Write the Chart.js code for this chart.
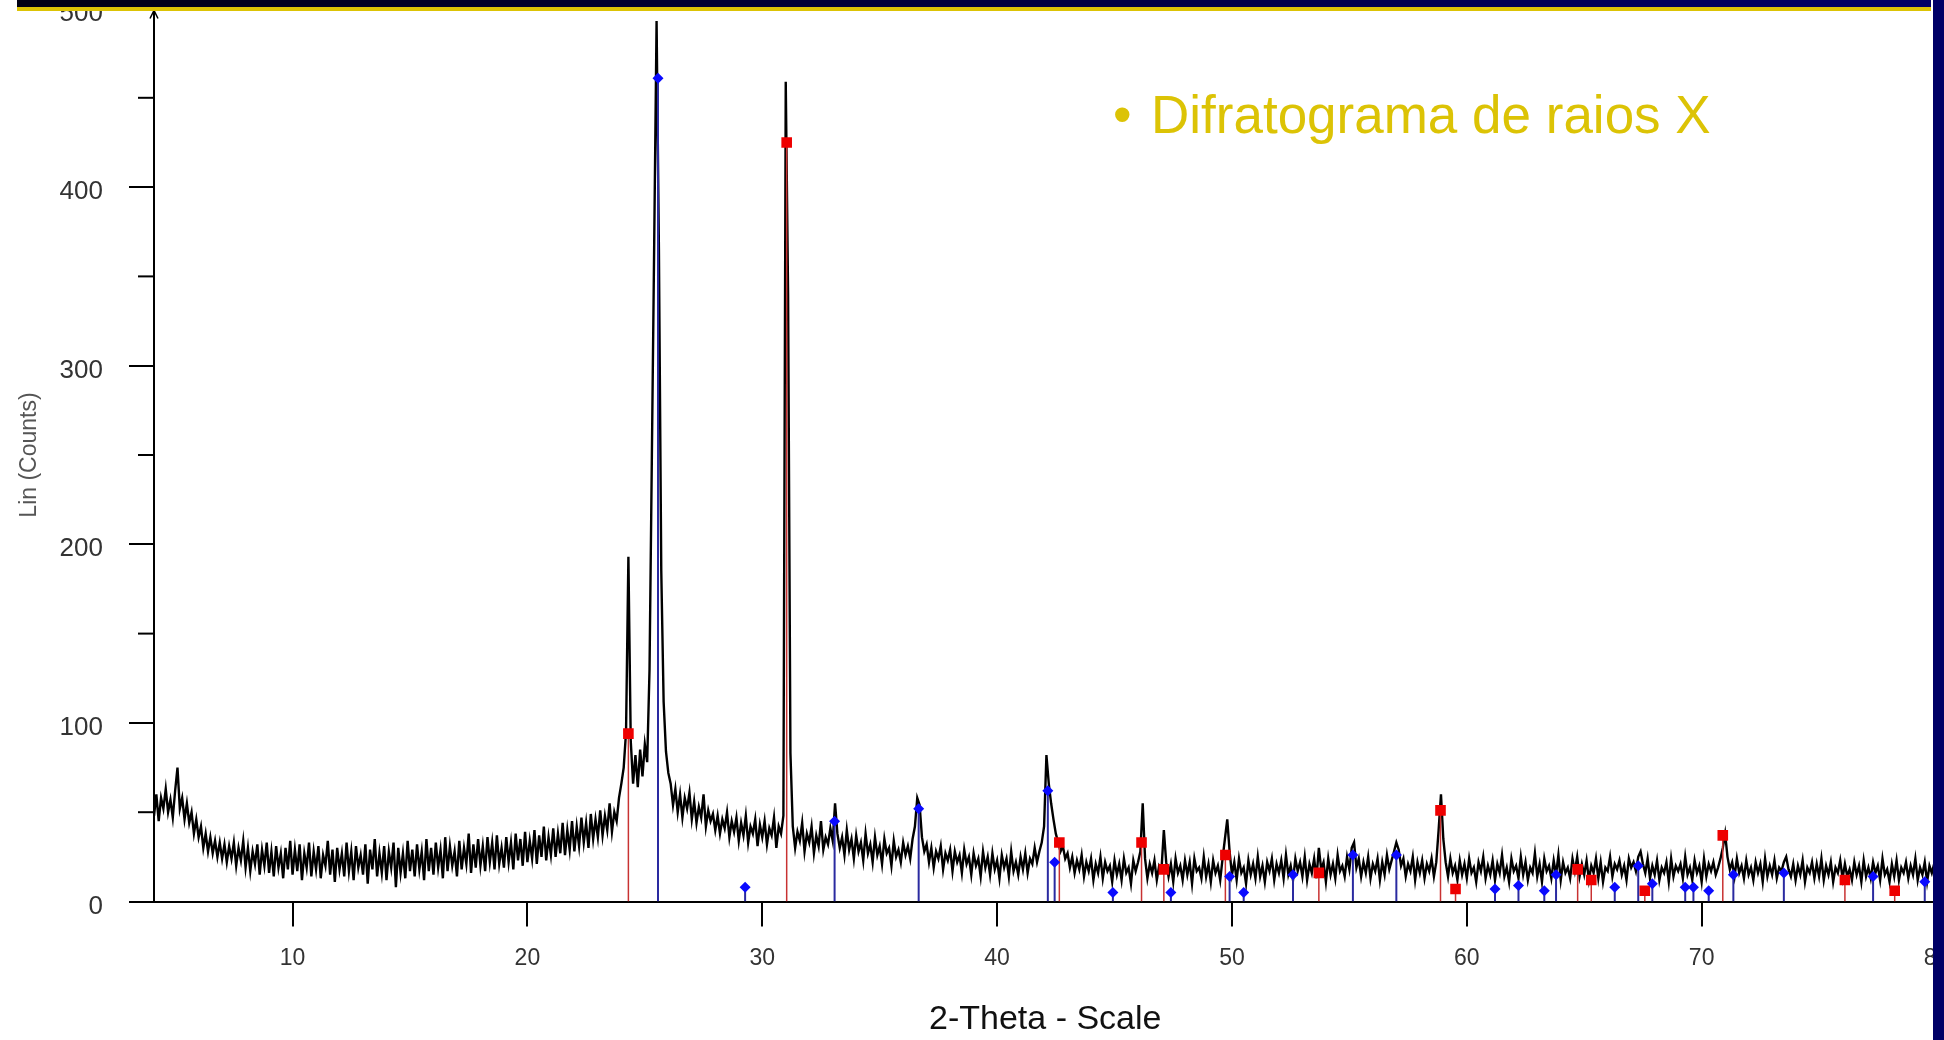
<!DOCTYPE html>
<html>
<head>
<meta charset="utf-8">
<script src="https://cdn.jsdelivr.net/npm/chart.js@4.4.0/dist/chart.umd.min.js"></script>
<style>
  html, body { margin: 0; padding: 0; background: #fff; overflow: hidden; }
  #wrap { position: absolute; left: 0; top: 0; width: 1944px; height: 1040px; }
  #topband { position: absolute; left: 17px; top: 0; width: 1914px; height: 7px; background: linear-gradient(to right, #000014, #000066); }
  #topline { position: absolute; left: 17px; top: 7px; width: 1914px; height: 4px; background: #dcc305; }
  #rightband { position: absolute; left: 1933px; top: 0; width: 11px; height: 1040px; background: #000066; }
  .heading { position: absolute; top: 88px; font-family: "Liberation Sans", Arial, sans-serif; font-size: 53px; line-height: 53px; color: #dcc305; white-space: nowrap; }
</style>
</head>
<body>
<div id="wrap"><canvas id="xrd"></canvas></div>
<div id="topband"></div>
<div id="topline"></div>
<div id="rightband"></div>
<span class="heading" style="left:1113px">•</span>
<span class="heading" style="left:1151px">Difratograma de raios X</span>
<script>
// scan grid (2-theta, degrees)
const startAngle = 4.1;
const stepAngle = 0.1;

// Lin (Counts), one row per degree
const counts = [
  48, 60, 45, 58, 52, 63, 50, 57, 47, 62,
  75, 52, 58, 46, 55, 44, 50, 38, 46, 36,
  42, 30, 38, 28, 36, 27, 34, 25, 33, 24,
  32, 22, 31, 24, 33, 20, 30, 23, 34, 19,
  30, 17, 28, 21, 32, 15, 29, 20, 33, 16,
  28, 14, 31, 19, 27, 13, 30, 18, 34, 15,
  29, 17, 32, 12, 27, 19, 33, 14, 28, 18,
  31, 13, 26, 20, 34, 15, 29, 11, 30, 18,
  27, 14, 33, 17, 28, 12, 31, 19, 26, 15,
  32, 10, 29, 18, 35, 14, 27, 16, 31, 12,
  28, 19, 33, 8, 30, 16, 27, 13, 34, 17,
  29, 14, 32, 18, 28, 12, 35, 17, 30, 15,
  33, 19, 29, 13, 36, 17, 31, 20, 28, 14,
  34, 18, 30, 21, 38, 16, 32, 19, 35, 20,
  31, 17, 36, 22, 33, 18, 37, 21, 30, 19,
  36, 22, 33, 18, 38, 23, 35, 20, 39, 22,
  34, 24, 40, 21, 37, 25, 42, 23, 36, 26,
  41, 25, 38, 27, 44, 26, 40, 29, 45, 28,
  42, 31, 47, 33, 44, 30, 49, 35, 46, 36,
  51, 37, 48, 40, 55, 39, 50, 45, 58, 66,
  75, 95, 193, 90, 66, 82, 64, 85, 70, 88,
  78, 130, 250, 370, 493, 365, 185, 112, 84, 72,
  66, 54, 63, 50, 60, 47, 58, 52, 61, 46,
  56, 44, 53, 47, 60, 42, 51, 45, 49, 40,
  48, 38, 46, 41, 50, 36, 45, 39, 47, 34,
  44, 37, 48, 33, 42, 38, 46, 31, 43, 36,
  45, 32, 41, 37, 47, 30, 42, 38, 48, 459,
  340, 83, 42, 30, 39, 34, 44, 28, 38, 33,
  42, 27, 37, 31, 45, 29, 36, 32, 41, 34,
  55, 38, 30, 36, 26, 40, 29, 35, 24, 37,
  28, 33, 23, 38, 27, 32, 22, 36, 26, 31,
  21, 35, 27, 30, 20, 34, 25, 29, 22, 33,
  26, 31, 24, 35, 42, 58, 54, 36, 28, 32,
  22, 30, 19, 28, 24, 31, 18, 27, 23, 29,
  17, 28, 22, 26, 16, 29, 21, 25, 15, 27,
  20, 24, 14, 28, 19, 25, 15, 27, 18, 23,
  13, 26, 19, 24, 14, 28, 17, 22, 15, 25,
  18, 27, 16, 24, 21, 30, 22, 28, 33, 42,
  82, 66, 55, 46, 38, 33, 28, 31, 24, 27,
  19, 25, 16, 23, 18, 26, 14, 22, 17, 24,
  12, 21, 16, 25, 13, 22, 17, 20, 11, 23,
  15, 21, 12, 24, 16, 19, 10, 23, 17, 22,
  28, 55, 24, 13, 21, 16, 23, 12, 20, 18,
  40, 22, 14, 21, 11, 24, 16, 20, 12, 23,
  15, 22, 10, 24, 17, 19, 13, 25, 14, 21,
  11, 23, 16, 20, 12, 24, 35, 46, 28, 15,
  22, 12, 24, 16, 19, 10, 23, 15, 21, 13,
  25, 14, 20, 11, 22, 17, 24, 12, 21, 16,
  23, 13, 26, 15, 20, 12, 24, 17, 22, 14,
  25, 12, 21, 16, 24, 13, 30, 18, 22, 11,
  24, 15, 21, 13, 26, 17, 20, 14, 25, 18,
  30, 33, 19, 24, 14, 22, 16, 25, 13, 21,
  17, 24, 12, 22, 15, 26, 18, 23, 28, 33,
  29, 20, 24, 14, 21, 17, 25, 12, 22, 16,
  23, 13, 21, 17, 24, 14, 22, 40, 60, 35,
  22, 14, 24, 16, 20, 12, 23, 15, 21, 13,
  24, 16, 19, 11, 22, 17, 25, 13, 20, 15,
  23, 12, 21, 16, 26, 14, 19, 11, 24, 17,
  20, 13, 25, 15, 22, 12, 19, 16, 27, 14,
  21, 11, 24, 17, 20, 13, 23, 15, 26, 12,
  22, 16, 19, 13, 24, 17, 25, 14, 21, 15,
  23, 12, 20, 16, 24, 13, 22, 11, 19, 17,
  25, 14, 21, 18, 23, 15, 20, 12, 24, 19,
  22, 17, 25, 28, 21, 16, 24, 13, 20, 15,
  23, 12, 19, 16, 22, 11, 24, 14, 20, 17,
  21, 13, 25, 15, 19, 12, 23, 16, 20, 11,
  24, 14, 21, 17, 22, 15, 19, 24, 30, 38,
  25, 18, 22, 14, 24, 16, 20, 13, 23, 15,
  19, 12, 22, 16, 21, 11, 24, 14, 20, 15,
  23, 13, 19, 17, 22, 25, 18, 14, 21, 12,
  20, 15, 23, 11, 19, 16, 22, 13, 21, 14,
  24, 12, 20, 15, 22, 11, 19, 16, 23, 13,
  21, 14, 18, 12, 22, 15, 20, 11, 23, 14,
  19, 13, 22, 16, 20, 12, 24, 15, 18, 11,
  21, 14, 23, 12, 19, 16, 22, 13, 20, 15,
  24, 12, 19, 15, 22, 11, 20, 16, 21, 14
];

// reference pattern, phase 1 (red squares)
const redAngles  = [24.30, 31.04, 42.65, 46.15, 47.10, 49.72, 53.70, 58.88, 59.52, 64.72, 65.30, 67.58, 70.90, 76.10, 78.22];
const redHeights = [94, 425, 33, 33, 18, 26, 16, 51, 7, 18, 12, 6, 37, 12, 6];

// reference pattern, phase 2 (blue diamonds)
const blueAngles  = [25.56, 29.27, 33.08, 36.66, 42.16, 42.45, 44.93, 47.40, 49.90, 50.50, 52.60, 55.15, 57.00, 61.20, 62.20, 63.30, 63.80, 66.30, 67.30, 67.90, 69.30, 69.65, 70.30, 71.35, 73.50, 77.30, 79.50];
const blueHeights = [461, 8, 45, 52, 62, 22, 5, 5, 14, 5, 15, 26, 26, 7, 9, 6, 15, 8, 20, 10, 8, 8, 6, 15, 16, 14, 11];

const xTicks = [10, 20, 30, 40, 50, 60, 70, 80];
const yTicks = [0, 100, 200, 300, 400, 500];
const yMinorTicks = [50, 150, 250, 350, 450];

const scan = counts.map(function(c, i) {
    return { x: Math.round((startAngle + i * stepAngle) * 100) / 100, y: c };
});

function sticks(angles, heights) {
    const pts = [];
    angles.forEach(function(a, i) {
        pts.push({ x: a, y: 0 }, { x: a, y: heights[i] }, { x: a, y: null });
    });
    return pts;
}

function tops(angles, heights) {
    return angles.map(function(a, i) { return { x: a, y: heights[i] }; });
}

// short ticks at the half-hundreds and the arrow at the top of the y axis
const axisExtras = {
    id: "axisExtras",
    afterDatasetsDraw(chart) {
        const ctx = chart.ctx;
        const area = chart.chartArea;
        const y = chart.scales.y;
        ctx.save();
        ctx.strokeStyle = "#000";
        ctx.lineWidth = 2;
        yMinorTicks.forEach(function(v) {
            const py = y.getPixelForValue(v);
            ctx.beginPath();
            ctx.moveTo(area.left - 16, py);
            ctx.lineTo(area.left, py);
            ctx.stroke();
        });
        ctx.lineWidth = 1.5;
        ctx.beginPath();
        ctx.moveTo(area.left - 4, area.top + 10);
        ctx.lineTo(area.left, area.top + 2);
        ctx.lineTo(area.left + 4, area.top + 10);
        ctx.stroke();
        ctx.restore();
    }
};

Chart.defaults.font.family = "'Liberation Sans', Arial, sans-serif";

new Chart(document.getElementById("xrd"), {
    type: "line",
    data: {
        datasets: [
            {
                data: tops(blueAngles, blueHeights),
                showLine: false,
                pointStyle: "rectRot",
                pointRadius: 5.5,
                pointBackgroundColor: "#0a0aff",
                pointBorderWidth: 0,
                order: 1
            },
            {
                data: tops(redAngles, redHeights),
                showLine: false,
                pointStyle: "rect",
                pointRadius: 7.5,
                pointBackgroundColor: "#ee0000",
                pointBorderWidth: 0,
                order: 1
            },
            {
                data: sticks(blueAngles, blueHeights),
                borderColor: "#2a2aa0",
                borderWidth: 2,
                pointRadius: 0,
                spanGaps: false,
                order: 2
            },
            {
                data: sticks(redAngles, redHeights),
                borderColor: "#c83232",
                borderWidth: 1.5,
                pointRadius: 0,
                spanGaps: false,
                order: 2
            },
            {
                data: scan,
                borderColor: "#000",
                borderWidth: 2.4,
                pointRadius: 0,
                order: 3
            }
        ]
    },
    options: {
        responsive: true,
        maintainAspectRatio: false,
        animation: false,
        devicePixelRatio: 1,
        layout: { padding: { top: 8.5, right: 6.3, bottom: 0, left: 0 } },
        plugins: { legend: { display: false }, tooltip: { enabled: false } },
        elements: { line: { tension: 0 } },
        scales: {
            x: {
                type: "linear",
                min: 4.1,
                max: 80,
                afterBuildTicks: function(s) { s.ticks = xTicks.map(function(v) { return { value: v }; }); },
                afterFit: function(s) { s.height = 138.5; s.paddingLeft = 0; s.paddingRight = 0; },
                grid: { drawOnChartArea: false, drawTicks: true, tickLength: 25, color: "#000", lineWidth: 2 },
                border: { color: "#000", width: 2 },
                ticks: { padding: 18, color: "#333", font: { size: 23 }, maxRotation: 0, autoSkip: false },
                title: { display: true, text: "2-Theta - Scale", color: "#111", font: { size: 34 }, padding: { top: 0, bottom: 0 } }
            },
            y: {
                type: "linear",
                min: 0,
                max: 500,
                afterBuildTicks: function(s) { s.ticks = yTicks.map(function(v) { return { value: v }; }); },
                afterFit: function(s) { s.width = 154; s.paddingTop = 0; s.paddingBottom = 0; },
                grid: { drawOnChartArea: false, drawTicks: true, tickLength: 25, color: "#000", lineWidth: 2 },
                border: { color: "#000", width: 2 },
                ticks: { padding: 26, labelOffset: 5, color: "#333", font: { size: 26 }, autoSkip: false },
                title: { display: true, text: "Lin (Counts)", color: "#555", font: { size: 23 }, padding: { top: 16, bottom: 0 } }
            }
        }
    },
    plugins: [axisExtras]
});
</script>
</body>
</html>
